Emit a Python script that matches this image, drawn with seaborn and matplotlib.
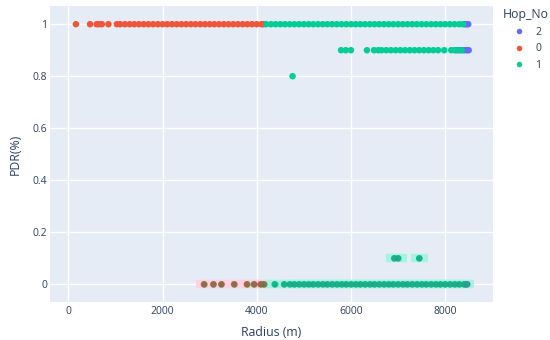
import numpy as np
import pandas as pd
import matplotlib
matplotlib.use("Agg")
import matplotlib.pyplot as plt
import seaborn as sns
from matplotlib.lines import Line2D

# radius values (m), grouped by hop count and PDR level
hop0_pdr1 = [160, 460, 600, 650, 710, 850, 1030, 1100, 1200, 1300, 1400, 1500, 1600, 1700,
             1800, 1900, 2000, 2100, 2200, 2300, 2400, 2500, 2600, 2700, 2800, 2900,
             3000, 3100, 3200, 3300, 3400, 3500, 3600, 3700, 3800, 3900, 4000, 4100, 4140]
hop0_pdr0 = [2880, 3080, 3250, 3520, 3790, 3940, 4080, 4150]
hop1_pdr1 = [4200, 4300, 4400, 4500, 4600, 4700, 4800, 4900, 5000, 5100, 5200, 5300,
             5400, 5500, 5600, 5700, 5800, 5900, 6000, 6100, 6200, 6300, 6400, 6500,
             6600, 6700, 6800, 6900, 7000, 7100, 7200, 7300, 7400, 7500, 7600, 7700,
             7800, 7900, 8000, 8100, 8200, 8300, 8380]
hop1_pdr09 = [5790, 5890, 6000, 6340, 6490, 6580, 6650, 6750, 6850, 6950, 7050, 7150,
              7250, 7350, 7450, 7550, 7650, 7750, 7850, 7980, 8130, 8200, 8280, 8350]
hop1_pdr08 = [4760]
hop1_pdr01 = [6920, 7000, 7450]
hop1_pdr0 = [4380, 4580, 4700, 4800, 4900, 5000, 5100, 5200, 5300, 5400, 5500, 5600,
             5700, 5800, 5900, 6000, 6100, 6200, 6300, 6400, 6500, 6600, 6700, 6800,
             6900, 7000, 7100, 7200, 7300, 7400, 7500, 7600, 7700, 7800, 7900, 8000,
             8100, 8200, 8300, 8400, 8440]
hop2_pdr1 = [8420, 8460, 8490]
hop2_pdr09 = [8240, 8320, 8400, 8460, 8500]
hop2_pdr0 = [8470]

groups = [
    ("2", 1.0, hop2_pdr1), ("2", 0.9, hop2_pdr09), ("2", 0.0, hop2_pdr0),
    ("0", 1.0, hop0_pdr1), ("0", 0.0, hop0_pdr0),
    ("1", 1.0, hop1_pdr1), ("1", 0.9, hop1_pdr09), ("1", 0.8, hop1_pdr08),
    ("1", 0.1, hop1_pdr01), ("1", 0.0, hop1_pdr0),
]
rows = []
for hop, pdr, radii in groups:
    for r in radii:
        rows.append({"Radius": r, "PDR": pdr, "Hop_No": hop})
df = pd.DataFrame(rows)

palette = {"2": "#636EFA", "0": "#EF553B", "1": "#00CC96"}
hop_order = ["2", "0", "1"]

sns.set_theme(style="darkgrid", rc={"axes.facecolor": "#E5ECF6", "grid.color": "white",
                                    "grid.linewidth": 1.0, "axes.edgecolor": "#E5ECF6"})
plt.rcParams["font.family"] = ["Open Sans", "DejaVu Sans"]
txt = "#2a3f5f"

fig = plt.figure(figsize=(5.5, 3.4), dpi=100)
ax = fig.add_axes([50 / 550, 1 - 302 / 340, (492.7 - 50) / 550, (302 - 6) / 340])

# light highlight bands behind the bottom points
low0 = df[(df.Hop_No == "0") & (df.PDR == 0.0)]
low1 = df[(df.Hop_No == "1") & (df.PDR <= 0.1)]
ax.errorbar(low0.Radius, low0.PDR, xerr=180, fmt="none", ecolor="#fbd3e4",
            elinewidth=6, capsize=0, zorder=2)
ax.errorbar(low1.Radius, low1.PDR, xerr=180, fmt="none", ecolor="#a6f4df",
            elinewidth=6, capsize=0, zorder=2)

sns.scatterplot(data=df, x="Radius", y="PDR", hue="Hop_No", hue_order=hop_order,
                palette=palette, s=22, linewidth=0, legend=False, ax=ax, zorder=3)

# darker overlay on the bottom rows
ax.scatter(low0.Radius, low0.PDR, s=22, color="#2a8a5a", alpha=0.5, linewidths=0, zorder=4)
ax.scatter(low1.Radius, low1.PDR, s=22, color="#3a8a7a", alpha=0.4, linewidths=0, zorder=4)

ax.set_xlim(-390, 9010)
ax.set_ylim(-0.068, 1.070)
ax.set_xticks([0, 2000, 4000, 6000, 8000])
ax.set_xticklabels(["0", "2000", "4000", "6000", "8000"])
ax.set_yticks([0, 0.2, 0.4, 0.6, 0.8, 1])
ax.set_yticklabels(["0", "0.2", "0.4", "0.6", "0.8", "1"])
ax.tick_params(colors=txt, labelsize=7.5, length=0)
ax.tick_params(axis="x", pad=3)
ax.tick_params(axis="y", pad=2)
ax.set_xlabel("Radius (m)", color=txt, fontsize=8.8, labelpad=6)
ax.set_ylabel("PDR(%)", color=txt, fontsize=8.8, labelpad=8)
for sp in ax.spines.values():
    sp.set_visible(False)

handles = [Line2D([0], [0], marker="o", linestyle="", markersize=4,
                  markerfacecolor=palette[h], markeredgewidth=0) for h in hop_order]
leg = ax.legend(handles, hop_order, title="Hop_No", loc="upper left",
                bbox_to_anchor=(1.023, 0.994), frameon=False, fontsize=7.5,
                title_fontsize=8.8, handlelength=3.0, handletextpad=0.1,
                labelspacing=0.55, borderpad=0, borderaxespad=0)
leg._legend_box.align = "left"
for t in leg.get_texts():
    t.set_color(txt)
leg.get_title().set_color(txt)

fig.savefig("out.png", dpi=100)
